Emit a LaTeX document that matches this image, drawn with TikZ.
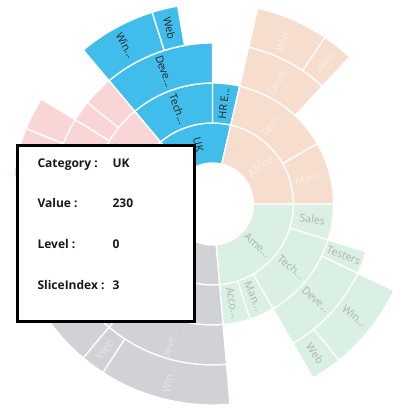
\documentclass[tikz,border=0pt]{standalone}
\usepackage{fontspec}
\setmainfont{Open Sans}
\definecolor{cblue}{HTML}{41BDEC}
\definecolor{cpeach}{HTML}{F6DDCE}
\definecolor{cgreen}{HTML}{D9F0E3}
\definecolor{cgray}{HTML}{D1D2D5}
\definecolor{cpink}{HTML}{F9D5D6}
\definecolor{cgtext}{HTML}{AAB5AF}
\definecolor{cptext}{HTML}{FBEDE4}
\definecolor{cytext}{HTML}{E4E5E7}
\newcommand\seg[5]{\path[fill=#1,draw=white,line width=1pt,line join=round] (#2:#4) arc[start angle=#2,end angle=#3,radius=#4] -- (#3:#5) arc[start angle=#3,end angle=#2,radius=#5] -- cycle;}
\newcommand\lab[5]{\pgfmathsetmacro\labrot{cos(#3)<0 ? #3+180 : #3}\node[seglab,#2,rotate=\labrot] (#1) at (#3:#4) {#5};}
\begin{document}
\begin{tikzpicture}[x=0.75pt,y=0.75pt,
  seglab/.style={inner sep=0pt,font=\fontsize{8}{9}\selectfont},
  dark/.style={text=black!85},
  pale/.style={text=cptext},
  graylab/.style={text=cytext},
  greenlab/.style={text=cgtext},
  tiptext/.style={anchor=base west,inner sep=0pt,font=\fontsize{9}{11}\selectfont\bfseries,text=black!90},
  tipbox/.style={fill=white,draw=black,line width=2.25pt,anchor=south west,inner sep=0pt,minimum width=132.75pt,minimum height=132pt}]
\useasboundingbox (0,0) rectangle (407,415);
\begin{scope}[shift={(212.5,211)}]
% blue (UK)
\seg{cblue}{77}{130}{41}{81}
\seg{cblue}{77}{90}{81}{121}
\seg{cblue}{90}{130}{81}{121}
\seg{cblue}{90}{130}{121}{161}
\seg{cblue}{100}{107.5}{161}{201}
\seg{cblue}{107.5}{130}{161}{201}
% peach
\seg{cpeach}{0}{77}{41}{81}
\seg{cpeach}{0}{30}{81}{121}
\seg{cpeach}{30}{77}{81}{121}
\seg{cpeach}{47}{77}{121}{161}
\seg{cpeach}{47}{56}{161}{201}
\seg{cpeach}{56}{77}{161}{201}
% green
\seg{cgreen}{-85}{0}{41}{81}
\seg{cgreen}{-17.3}{0}{81}{121}
\seg{cgreen}{-60}{-17.3}{81}{121}
\seg{cgreen}{-72}{-60}{81}{121}
\seg{cgreen}{-85}{-72}{81}{121}
\seg{cgreen}{-25.5}{-17.3}{121}{161}
\seg{cgreen}{-60}{-25.5}{121}{161}
\seg{cgreen}{-51}{-25.5}{161}{201}
\seg{cgreen}{-60}{-51}{161}{201}
% gray
\seg{cgray}{200}{275}{41}{81}
\seg{cgray}{200}{215}{81}{121}
\seg{cgray}{215}{275}{81}{121}
\seg{cgray}{215}{230}{121}{161}
\seg{cgray}{230}{275}{121}{161}
\seg{cgray}{215}{230}{161}{201}
\seg{cgray}{230}{237}{161}{201}
\seg{cgray}{237}{275}{161}{201}
% pink
\seg{cpink}{130}{200}{41}{81}
\seg{cpink}{130}{172}{81}{121}
\seg{cpink}{172}{200}{81}{121}
\seg{cpink}{130}{141}{121}{161}
\seg{cpink}{141}{148.5}{121}{161}
\seg{cpink}{148.5}{172}{121}{161}
\seg{cpink}{148.5}{158}{161}{201}
\seg{cpink}{158}{172}{161}{201}
% labels blue
\lab{bUK}{dark}{103.5}{61}{UK}
\lab{bHR}{dark}{83.5}{101}{HR E...}
\lab{bTech}{dark}{110}{101}{Tech...}
\lab{bDeve}{dark}{110}{141}{Deve...}
\lab{bWeb}{dark}{103.75}{181}{Web}
\lab{bWin}{dark}{118.75}{181}{Win...}
% labels peach
\lab{pAfr}{pale}{38.5}{61}{Africa}
\lab{pMan}{pale}{15}{101}{Man...}
\lab{pTech}{pale}{53.5}{101}{Tech...}
\lab{pDeve}{pale}{62}{141}{Deve...}
\lab{pWeb}{pale}{51.5}{181}{Web}
\lab{pWin}{pale}{66.5}{181}{Win...}
% labels green
\lab{gAme}{greenlab}{-42.5}{61}{Ame...}
\lab{gSales}{greenlab}{-8.65}{101}{Sales}
\lab{gTech}{greenlab}{-38.65}{101}{Tech...}
\lab{gMan}{greenlab}{-66}{101}{Man...}
\lab{gAcco}{greenlab}{-78.5}{101}{Acco...}
\lab{gTest}{greenlab}{-21.4}{141}{Testers}
\lab{gDeve}{greenlab}{-42.75}{141}{Deve...}
\lab{gWin}{greenlab}{-38.25}{181}{Win...}
\lab{gWeb}{greenlab}{-55.5}{181}{Web}
% labels gray
\lab{yDeve}{graylab}{253}{147}{Deve...}
\lab{yWeb}{graylab}{233.5}{181}{Web}
\lab{yWin}{graylab}{256}{181}{Win...}
\end{scope}
% tooltip
\node[tipbox] (tip) at (15.5,91.5) {};
\node[tiptext] (tcat) at (37.3,247.5) {Category :};
\node[tiptext] (vcat) at (112.3,247.5) {UK};
\node[tiptext] (tval) at (37.3,207) {Value :};
\node[tiptext] (vval) at (112.3,207) {230};
\node[tiptext] (tlev) at (37.3,166) {Level :};
\node[tiptext] (vlev) at (112.3,166) {0};
\node[tiptext] (tsl) at (37.3,125) {SliceIndex :};
\node[tiptext] (vsl) at (112.3,125) {3};
\end{tikzpicture}
\end{document}
